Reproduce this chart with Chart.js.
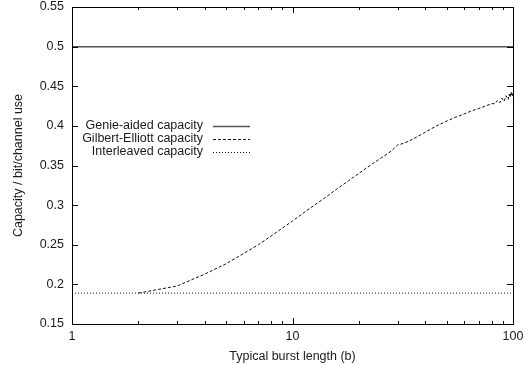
<!DOCTYPE html>
<html>
<head>
<meta charset="utf-8">
<script src="https://cdn.jsdelivr.net/npm/chart.js@4/dist/chart.umd.min.js"></script>
<style>
  html, body { margin: 0; padding: 0; background: #fff; }
</style>
</head>
<body>
<canvas id="capacity_chart" width="530" height="365"></canvas>
<script>
// Burst length samples and the Gilbert-Elliott capacity at each one
const burstLengths = [2, 3, 4, 5, 6, 7, 8, 9, 10, 12, 14, 16, 18, 20, 23, 26, 28, 30, 32, 35,
    40, 45, 50, 55, 60, 65, 70, 75, 80, 83, 85, 87, 89, 91, 93, 95, 96, 97, 98, 99, 100]
const gilbertElliott = [0.189, 0.198, 0.213, 0.226, 0.239, 0.250, 0.261, 0.271, 0.280, 0.296,
    0.309, 0.321, 0.331, 0.340, 0.352, 0.362, 0.368, 0.376, 0.378, 0.383,
    0.392, 0.400, 0.406, 0.411, 0.415, 0.419, 0.422, 0.425, 0.428, 0.428,
    0.432, 0.429, 0.435, 0.431, 0.438, 0.433, 0.440, 0.436, 0.443, 0.437, 0.442]

// Flat references
const flatRange = [1, 100]
const genieAided = [0.5, 0.5]
const interleaved = [0.189, 0.189]

// Axes
const xTicks = [1, 2, 3, 4, 5, 6, 7, 8, 9, 10, 20, 30, 40, 50, 60, 70, 80, 90, 100]
const xLabelled = [1, 10, 100]
const yTicks = [0.15, 0.2, 0.25, 0.3, 0.35, 0.4, 0.45, 0.5, 0.55]

const textColor = '#1a1a1a'
const fontFamily = "'Liberation Sans', Arial, sans-serif"
const fontSize = 12.5

function toPoints(xs, ys) {
    return xs.map((x, i) => ({ x: x, y: ys[i] }))
}

// gnuplot style frame with ticks pointing into the plot
const innerTicks = {
    id: 'innerTicks',
    afterDatasetsDraw(chart) {
        const { ctx, chartArea: a, scales } = chart
        ctx.save()
        ctx.strokeStyle = '#000'
        ctx.lineWidth = 1
        ctx.beginPath()
        xTicks.forEach(v => {
            const px = Math.round(scales.x.getPixelForValue(v)) + 0.5
            const len = xLabelled.includes(v) ? 6 : 3
            ctx.moveTo(px, a.bottom); ctx.lineTo(px, a.bottom - len)
            ctx.moveTo(px, a.top); ctx.lineTo(px, a.top + len)
        })
        yTicks.forEach(v => {
            const py = Math.round(scales.y.getPixelForValue(v)) + 0.5
            ctx.moveTo(a.left, py); ctx.lineTo(a.left + 6, py)
            ctx.moveTo(a.right, py); ctx.lineTo(a.right - 6, py)
        })
        ctx.stroke()
        ctx.strokeRect(Math.round(a.left) + 0.5, Math.round(a.top) + 0.5,
            Math.round(a.right - a.left), Math.round(a.bottom - a.top))
        ctx.restore()
    }
}

// Key: right aligned text with the line sample to its right
const sideKey = {
    id: 'sideKey',
    afterDraw(chart) {
        const { ctx, chartArea: a } = chart
        ctx.save()
        ctx.font = fontSize + 'px ' + fontFamily
        ctx.textAlign = 'right'
        ctx.textBaseline = 'middle'
        chart.data.datasets.forEach((ds, i) => {
            const y = a.top + 119 + i * 13
            ctx.fillStyle = textColor
            ctx.fillText(ds.label, a.left + 131, y)
            ctx.strokeStyle = ds.borderColor
            ctx.lineWidth = ds.borderWidth
            ctx.setLineDash(ds.borderDash || [])
            ctx.beginPath()
            ctx.moveTo(a.left + 141, Math.round(y) + 0.5)
            ctx.lineTo(a.left + 178, Math.round(y) + 0.5)
            ctx.stroke()
        })
        ctx.restore()
    }
}

Chart.defaults.font.family = fontFamily
Chart.defaults.font.size = fontSize
Chart.defaults.color = textColor

new Chart(document.getElementById('capacity_chart'), {
    type: 'line',
    data: {
        datasets: [
            {
                label: 'Genie-aided capacity',
                data: toPoints(flatRange, genieAided),
                borderColor: '#555555',
                borderWidth: 1.5,
                pointRadius: 0,
                tension: 0
            },
            {
                label: 'Gilbert-Elliott capacity',
                data: toPoints(burstLengths, gilbertElliott),
                borderColor: '#111111',
                borderWidth: 1,
                borderDash: [3, 2],
                pointRadius: 0,
                tension: 0
            },
            {
                label: 'Interleaved capacity',
                data: toPoints(flatRange, interleaved),
                borderColor: '#111111',
                borderWidth: 1,
                borderDash: [1, 2],
                pointRadius: 0,
                tension: 0
            }
        ]
    },
    options: {
        responsive: false,
        animation: false,
        devicePixelRatio: 1,
        layout: { padding: { top: 7, right: 17, left: 0, bottom: 0 } },
        plugins: {
            legend: { display: false },
            tooltip: { enabled: false }
        },
        scales: {
            x: {
                type: 'logarithmic',
                min: 1,
                max: 100,
                grid: { display: false, drawTicks: false },
                border: { display: false },
                afterBuildTicks: scale => {
                    scale.ticks = xTicks.map(v => ({ value: v, major: xLabelled.includes(v) }))
                },
                afterFit: scale => {
                    scale.height = 41
                    scale.paddingLeft = 0
                    scale.paddingRight = 0
                },
                ticks: {
                    autoSkip: false,
                    maxRotation: 0,
                    padding: 5,
                    callback: v => xLabelled.includes(v) ? String(v) : ''
                },
                title: {
                    display: true,
                    text: 'Typical burst length (b)',
                    padding: { top: 0, bottom: 1 }
                }
            },
            y: {
                min: 0.15,
                max: 0.55,
                grid: { display: false, drawTicks: false },
                border: { display: false },
                afterBuildTicks: scale => {
                    scale.ticks = yTicks.map(v => ({ value: v }))
                },
                afterFit: scale => {
                    scale.width = 72
                    scale.paddingTop = 0
                    scale.paddingBottom = 0
                },
                ticks: {
                    padding: 8,
                    callback: v => String(Number(v.toFixed(2)))
                },
                title: {
                    display: true,
                    text: 'Capacity / bit/channel use',
                    padding: { top: 11, bottom: 0 }
                }
            }
        }
    },
    plugins: [innerTicks, sideKey]
})
</script>
</body>
</html>
